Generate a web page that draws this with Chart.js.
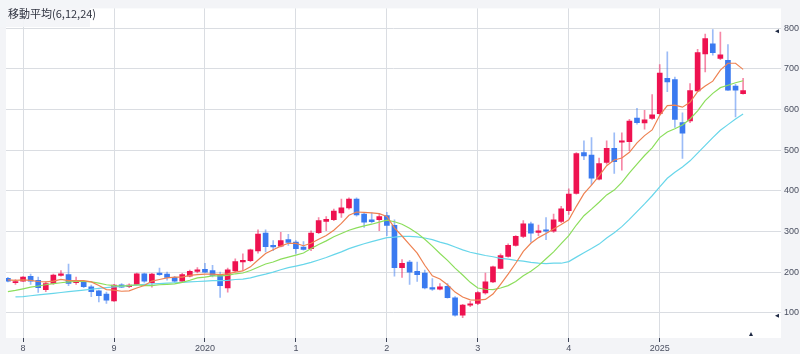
<!DOCTYPE html>
<html>
<head>
<meta charset="utf-8">
<script src="https://cdn.jsdelivr.net/npm/chart.js@4.4.1/dist/chart.umd.min.js"></script>
<style>
    html, body { margin: 0; padding: 0; background: #f3f4f7; }
    #wrap { width: 800px; height: 354px; }
</style>
</head>
<body>
<div id="wrap"><canvas id="myChart" width="800" height="354"></canvas></div>
<script>
// Tháng (nến tháng) 2017/11 -> 2025/12
const months = [
    '2017/11', '2017/12',
    '2018/01', '2018/02', '2018/03', '2018/04', '2018/05', '2018/06', '2018/07', '2018/08', '2018/09', '2018/10', '2018/11', '2018/12',
    '2019/01', '2019/02', '2019/03', '2019/04', '2019/05', '2019/06', '2019/07', '2019/08', '2019/09', '2019/10', '2019/11', '2019/12',
    '2020/01', '2020/02', '2020/03', '2020/04', '2020/05', '2020/06', '2020/07', '2020/08', '2020/09', '2020/10', '2020/11', '2020/12',
    '2021/01', '2021/02', '2021/03', '2021/04', '2021/05', '2021/06', '2021/07', '2021/08', '2021/09', '2021/10', '2021/11', '2021/12',
    '2022/01', '2022/02', '2022/03', '2022/04', '2022/05', '2022/06', '2022/07', '2022/08', '2022/09', '2022/10', '2022/11', '2022/12',
    '2023/01', '2023/02', '2023/03', '2023/04', '2023/05', '2023/06', '2023/07', '2023/08', '2023/09', '2023/10', '2023/11', '2023/12',
    '2024/01', '2024/02', '2024/03', '2024/04', '2024/05', '2024/06', '2024/07', '2024/08', '2024/09', '2024/10', '2024/11', '2024/12',
    '2025/01', '2025/02', '2025/03', '2025/04', '2025/05', '2025/06', '2025/07', '2025/08', '2025/09', '2025/10', '2025/11', '2025/12'
];
const yearLabels = ['8', '9', '2020', '1', '2', '3', '4', '2025'];
const yTicks = [100, 200, 300, 400, 500, 600, 700, 800];

// OHLC
const opens = [
    185, 174,
    178, 190, 180, 157, 172, 192, 194, 174, 175, 164, 154, 146,
    129, 169, 164, 170, 196, 174, 198, 195, 187, 178, 190, 202,
    207, 204, 192, 161, 203, 225, 228, 252, 296, 266, 264, 280,
    274, 262, 258, 297, 325, 329, 346, 358, 380, 343, 329, 329,
    339, 315, 211, 225, 202, 198, 162, 158, 165, 137, 94, 119,
    123, 149, 176, 209, 239, 266, 288, 319, 298, 304, 301, 325,
    351, 394, 494, 488, 429, 470, 505, 520, 521, 579, 567, 578,
    590, 677, 674, 568, 572, 646, 737, 762, 726, 721, 658, 639
];
const highs = [
    187, 182,
    189, 195, 188, 176, 195, 204, 220, 188, 176, 168, 156, 151,
    170, 172, 171, 198, 198, 197, 210, 200, 190, 197, 205, 211,
    222, 217, 200, 210, 233, 245, 257, 304, 304, 278, 298, 293,
    278, 275, 302, 334, 337, 355, 380, 383, 383, 347, 346, 345,
    347, 329, 231, 229, 225, 205, 184, 172, 172, 140, 121, 128,
    152, 198, 215, 245, 270, 290, 327, 323, 316, 334, 343, 362,
    405, 494, 523, 531, 481, 523, 543, 543, 576, 603, 598, 637,
    711, 742, 680, 592, 664, 748, 786, 797, 791, 760, 662, 677
];
const lows = [
    176, 170,
    177, 170, 150, 152, 170, 190, 167, 170, 162, 140, 127, 123,
    128, 162, 162, 168, 175, 163, 192, 180, 175, 176, 188, 198,
    199, 188, 138, 151, 201, 204, 226, 247, 250, 253, 262, 266,
    246, 254, 253, 295, 302, 327, 335, 355, 338, 310, 321, 302,
    290, 190, 187, 170, 177, 159, 155, 156, 136, 92, 88, 115,
    120, 146, 174, 208, 237, 264, 285, 274, 290, 280, 298, 322,
    342, 392, 477, 415, 427, 466, 443, 451, 499, 564, 552, 576,
    587, 644, 556, 480, 568, 644, 693, 734, 723, 647, 582, 638
];
const closes = [
    178, 177,
    188, 178, 162, 172, 193, 196, 172, 178, 164, 152, 142, 131,
    168, 163, 168, 196, 178, 195, 194, 187, 178, 194, 202, 206,
    200, 192, 167, 206, 226, 229, 255, 294, 263, 262, 278, 273,
    258, 256, 296, 327, 330, 350, 358, 380, 341, 323, 324, 337,
    315, 211, 222, 200, 194, 161, 158, 164, 137, 94, 119, 122,
    150, 176, 213, 241, 266, 288, 319, 296, 302, 301, 329, 356,
    392, 492, 486, 431, 467, 505, 472, 523, 572, 568, 575, 587,
    690, 668, 576, 542, 647, 740, 775, 740, 735, 648, 648, 647
];

// Đường trung bình động 6, 12, 24
const ma6 = [
    181, 180,
    181, 180, 177, 176, 178, 182, 179, 179, 179, 176, 167, 157,
    156, 153, 154, 161, 167, 178, 182, 186, 188, 188, 192, 194,
    195, 195, 194, 196, 200, 203, 213, 230, 246, 255, 264, 271,
    271, 265, 271, 281, 290, 303, 320, 340, 348, 347, 346, 344,
    337, 309, 289, 268, 247, 217, 191, 183, 169, 151, 139, 132,
    131, 133, 146, 170, 195, 222, 251, 271, 285, 295, 306, 317,
    329, 362, 393, 414, 437, 462, 476, 481, 495, 518, 536, 550,
    586, 610, 611, 606, 618, 644, 658, 670, 697, 714, 714, 699
];
const ma12 = [
    152, 155,
    159, 163, 166, 169, 172, 174, 176, 177, 177, 176, 173, 169,
    167, 166, 167, 169, 167, 167, 169, 170, 171, 175, 180, 186,
    188, 191, 191, 192, 196, 198, 204, 212, 220, 225, 232, 237,
    242, 247, 258, 268, 277, 287, 295, 303, 309, 314, 318, 323,
    328, 324, 318, 308, 296, 281, 264, 246, 229, 210, 193, 175,
    161, 158, 157, 161, 167, 177, 191, 202, 216, 233, 250, 270,
    290, 316, 339, 355, 372, 390, 402, 421, 444, 466, 487, 506,
    531, 545, 553, 562, 577, 597, 622, 640, 654, 660, 666, 671
];
const ma24 = [
    null, 139,
    140, 142, 144, 146, 148, 150, 152, 154, 156, 158, 160, 162,
    164, 165, 167, 168, 170, 171, 172, 173, 174, 175, 176, 177,
    178, 179, 179, 180, 182, 183, 186, 191, 195, 200, 206, 211,
    215, 219, 224, 230, 236, 243, 250, 258, 264, 270, 275, 280,
    285, 286, 288, 288, 287, 284, 280, 274, 269, 262, 255, 249,
    245, 241, 238, 234, 232, 229, 227, 224, 222, 221, 222, 222,
    226, 237, 248, 258, 269, 284, 297, 312, 330, 349, 368, 388,
    410, 431, 446, 459, 474, 493, 512, 531, 549, 563, 577, 589
];

const UP = 'rgb(238, 18, 80)';
const DOWN = 'rgb(58, 122, 240)';
const UP_WICK = 'rgba(238, 18, 80, 0.5)';
const DOWN_WICK = 'rgba(58, 122, 240, 0.5)';
const GRID = 'rgb(218, 221, 226)';

const isUp = (i) => closes[i] >= opens[i];
const janIdx = months.map((m, i) => m.endsWith('/01') ? i : -1).filter(i => i >= 0);
const toXY = (arr) => arr.map((v, i) => ({ x: i, y: v }));

// Nền, khung tiêu đề, mấy cái dấu tam giác nhỏ
const bgPlugin = {
    id: 'bg',
    beforeDraw(chart) {
        const { ctx, chartArea: a } = chart;
        ctx.save();
        ctx.fillStyle = '#f3f4f7';
        ctx.fillRect(0, 0, chart.width, chart.height);
        ctx.fillStyle = '#ffffff';
        ctx.fillRect(a.left, a.top, a.right - a.left, a.bottom - a.top);
        ctx.restore();
    },
    afterDatasetsDraw(chart) {
        const { ctx } = chart;
        ctx.save();
        ctx.fillStyle = 'rgba(243, 244, 247, 0.92)';
        ctx.fillRect(0, 0, 90, 27);
        ctx.fillStyle = '#2f3340';
        ctx.font = '11px "Noto Sans CJK JP", sans-serif';
        ctx.textBaseline = 'middle';
        ctx.fillText('移動平均(6,12,24)', 8, 14);
        ctx.restore();
    },
    afterDraw(chart) {
        const { ctx } = chart;
        const y = chart.scales.y;
        ctx.save();
        ctx.fillStyle = '#1f2a44';
        [800, 100].forEach(v => {
            const py = y.getPixelForValue(v) + 3;
            ctx.beginPath();
            ctx.moveTo(779, py - 2);
            ctx.lineTo(779, py + 2);
            ctx.lineTo(775, py);
            ctx.closePath();
            ctx.fill();
        });
        ctx.beginPath();
        ctx.moveTo(749, 336);
        ctx.lineTo(753, 336);
        ctx.lineTo(751, 332);
        ctx.closePath();
        ctx.fill();
        ctx.restore();
    }
};

const ctx = document.getElementById('myChart').getContext('2d');
new Chart(ctx, {
    type: 'bar',
    data: {
        datasets: [
            {
                type: 'line', label: 'MA6', data: toXY(ma6), order: 0,
                borderColor: 'rgb(238, 130, 82)', borderWidth: 1.2, pointRadius: 0, tension: 0
            },
            {
                type: 'line', label: 'MA12', data: toXY(ma12), order: 0,
                borderColor: 'rgb(140, 222, 92)', borderWidth: 1.2, pointRadius: 0, tension: 0
            },
            {
                type: 'line', label: 'MA24', data: toXY(ma24), order: 0,
                borderColor: 'rgb(104, 214, 234)', borderWidth: 1.2, pointRadius: 0, tension: 0
            },
            {
                label: 'body', order: 1, grouped: false,
                data: opens.map((o, i) => ({ x: i, y: [o, closes[i]] })),
                backgroundColor: (c) => isUp(c.dataIndex) ? UP : DOWN,
                barThickness: 5, minBarLength: 1, borderWidth: 0
            },
            {
                label: 'wick', order: 2, grouped: false,
                data: lows.map((l, i) => ({ x: i, y: [l, highs[i]] })),
                backgroundColor: (c) => isUp(c.dataIndex) ? UP_WICK : DOWN_WICK,
                barThickness: 1, borderWidth: 0
            }
        ]
    },
    options: {
        responsive: false,
        animation: false,
        layout: { padding: { left: 6, top: 7, right: 0, bottom: 0 } },
        plugins: { legend: { display: false }, tooltip: { enabled: false } },
        scales: {
            x: {
                type: 'linear', min: -0.25, max: 102, offset: false,
                grid: { color: GRID, offset: false, drawTicks: true, tickLength: 4, tickColor: '#3d4457' },
                border: { display: false },
                afterBuildTicks: (s) => { s.ticks = janIdx.map(v => ({ value: v })); },
                afterFit: (s) => { s.height = 16; },
                ticks: {
                    autoSkip: false, maxRotation: 0, padding: 1,
                    color: '#4a4f60', font: { family: 'Liberation Sans', size: 9 },
                    callback: (v, idx) => yearLabels[idx]
                }
            },
            y: {
                position: 'right', min: 38, max: 849,
                grid: { color: GRID, drawTicks: false },
                border: { display: false },
                afterBuildTicks: (s) => { s.ticks = yTicks.map(v => ({ value: v })); },
                afterFit: (s) => { s.width = 19; },
                ticks: {
                    padding: 3, color: '#4a4f60',
                    font: { family: 'Liberation Sans', size: 9 }
                }
            }
        }
    },
    plugins: [bgPlugin]
});
</script>
</body>
</html>
